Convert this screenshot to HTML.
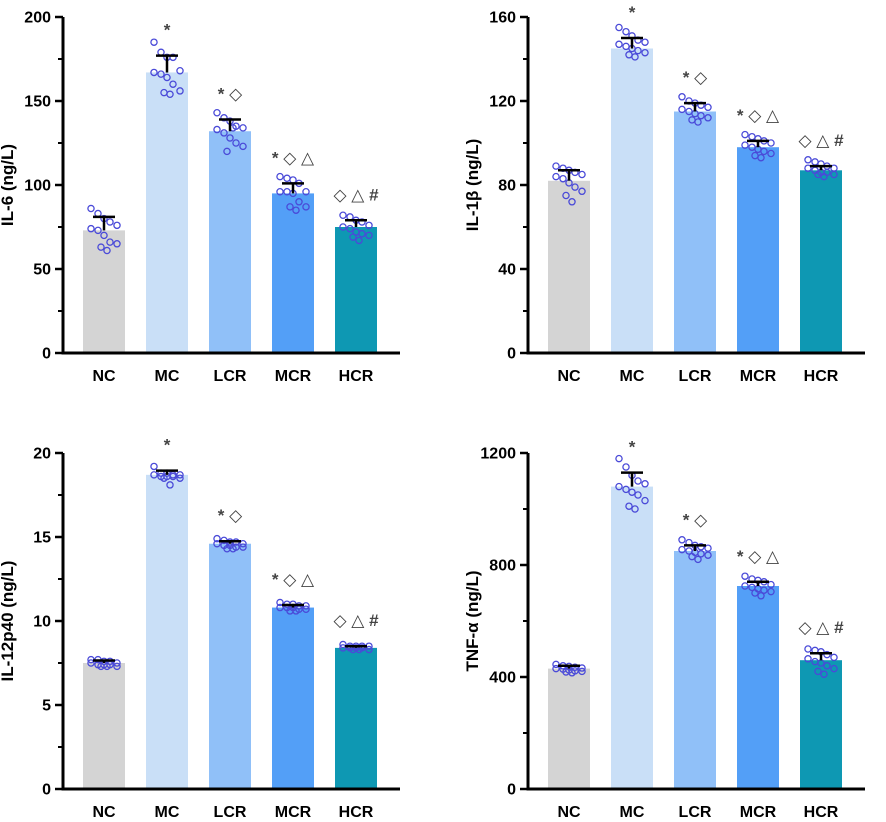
<!DOCTYPE html>
<html><head><meta charset="utf-8"><style>
body{margin:0;background:#fff;width:886px;height:817px;overflow:hidden;font-family:"Liberation Sans",Arial,sans-serif}
svg text{font-family:"Liberation Sans","DejaVu Sans",sans-serif;font-weight:bold}
</style></head><body>
<svg id="chart" width="886" height="817" viewBox="0 0 886 817"></svg>
<script>
const categories=["NC","MC","LCR","MCR","HCR"];
const barColors=["#d4d4d4","#c9dff7","#90c0f8","#539ff7","#0e98b3"];
const annotations=["","*","* ◇","* ◇ △","◇ △ #"];
const il6Means=[73,167,132,95,75];
const il6Err=[81,177,139,101,79];
const il6Dots=[[86,83,80,78,76,74,73,70,66,65,63,61],[185,179,176,176,168,167,166,164,160,156,155,154],[143,140,138,135,134,133,131,128,125,123,120,134],[105,104,103,101,96,96,96,95,90,87,87,85],[82,81,79,78,76,75,74,72,71,70,69,67]];
const il1bMeans=[82,145,115,98,87];
const il1bErr=[87,150,119,101,89];
const il1bDots=[[89,88,87,86,85,84,83,81,79,77,75,72],[155,153,151,149,148,147,146,145,144,143,142,141],[122,120,119,118,117,116,115,114,113,112,111,110],[104,103,102,101,100,99,98,97,96,95,94,93],[92,91,90,89,88,88,87,86,86,85,85,84]];
const il12Means=[7.5,18.7,14.6,10.8,8.4];
const il12Err=[7.65,18.95,14.75,10.95,8.5];
const il12Dots=[[7.7,7.7,7.6,7.6,7.5,7.5,7.4,7.4,7.4,7.3,7.3,7.3],[19.2,18.8,18.8,18.7,18.7,18.7,18.6,18.6,18.6,18.5,18.5,18.1],[14.9,14.8,14.7,14.7,14.6,14.6,14.5,14.5,14.4,14.4,14.3,14.3],[11.1,11.0,11.0,10.9,10.9,10.8,10.8,10.8,10.7,10.7,10.6,10.6],[8.6,8.5,8.5,8.5,8.5,8.4,8.4,8.4,8.4,8.3,8.3,8.3]];
const tnfMeans=[430,1080,850,725,460];
const tnfErr=[440,1130,870,740,485];
const tnfDots=[[445,440,438,435,432,430,428,425,422,420,418,415],[1180,1150,1120,1100,1090,1080,1070,1060,1050,1030,1010,1000],[890,880,870,865,860,855,850,845,840,835,830,820],[760,750,745,740,730,725,720,715,710,705,700,690],[500,495,490,480,470,465,455,450,440,430,420,410]];
const il6Ticks=[0,50,100,150,200];
const il1bTicks=[0,40,80,120,160];
const il12Ticks=[0,5,10,15,20];
const tnfTicks=[0,400,800,1200];

const NS="http://www.w3.org/2000/svg";
const svg=document.getElementById('chart');
function mk(tag,attrs,parent,txt){const e=document.createElementNS(NS,tag);for(const k in attrs)e.setAttribute(k,attrs[k]);if(txt!==undefined)e.textContent=txt;parent.appendChild(e);return e;}
const jx=[-13,-6,0,6,13,-13,-6,0,6,13,-3,3];

function panel(name,ax,y0,yTop,ticks,means,errs,dots,title){
  const g=mk('g',{},svg);
  
  
  const maxV=ticks[ticks.length-1];
  const ys=v=>y0-(v/maxV)*(y0-yTop);
  const xs=i=>ax+41+i*63;
  categories.forEach((c,i)=>{
    const r=mk('rect',{x:xs(i)-21,y:ys(means[i]),width:42,height:y0-ys(means[i]),fill:barColors[i]},g);
    
    
  });
  dots.forEach((arr,i)=>{arr.forEach((v,k)=>{
    const d=mk('circle',{cx:xs(i)+jx[k%jx.length],cy:ys(v),r:3.1,fill:'none',stroke:'#4a4ad8','stroke-width':1.3},g);
    
    
  });});
  categories.forEach((c,i)=>{
    const e=mk('path',{d:`M${xs(i)},${ys(means[i])}V${ys(errs[i])}M${xs(i)-11},${ys(errs[i])}H${xs(i)+11}`,stroke:'#000','stroke-width':2.5,fill:'none'},g);
    
    
    if(annotations[i]){
      const t=mk('text',{x:xs(i),y:ys(errs[i])-20,'text-anchor':'middle','font-size':17,fill:'#444'},g,annotations[i]);
      
      
    }
    const l=mk('text',{x:xs(i),y:y0+28,'text-anchor':'middle','font-size':16,fill:'#000'},g,c);
    
    
  });
  const a=mk('path',{d:`M${ax},${yTop}V${y0}H${ax+337}`,stroke:'#000','stroke-width':3,fill:'none'},g);
  
  
  ticks.forEach((t,k)=>{
    mk('line',{x1:ax-8,x2:ax,y1:ys(t),y2:ys(t),stroke:'#000','stroke-width':2.5},g);
    if(k<ticks.length-1){const m=(t+ticks[k+1])/2;mk('line',{x1:ax-5,x2:ax,y1:ys(m),y2:ys(m),stroke:'#000','stroke-width':2},g);}
    const tl=mk('text',{x:ax-12,y:ys(t)+5.5,'text-anchor':'end','font-size':16,fill:'#000'},g,String(t));
    
    
  });
  const yt=mk('text',{x:0,y:0,'text-anchor':'middle','font-size':17,fill:'#000',transform:`translate(${ax-50},${(y0+yTop)/2}) rotate(-90)`},g,title);
  
  
}
panel('il6',63,353,17,il6Ticks,il6Means,il6Err,il6Dots,'IL-6 (ng/L)');
panel('il1b',528,353,17,il1bTicks,il1bMeans,il1bErr,il1bDots,'IL-1β (ng/L)');
panel('il12p40',63,789,453,il12Ticks,il12Means,il12Err,il12Dots,'IL-12p40 (ng/L)');
panel('tnf',528,789,453,tnfTicks,tnfMeans,tnfErr,tnfDots,'TNF-α (ng/L)');
</script>
</body></html>
